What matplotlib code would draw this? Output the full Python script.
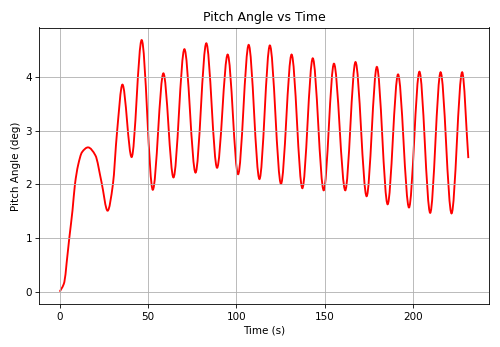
import numpy as np
import matplotlib
matplotlib.use("Agg")
import matplotlib.pyplot as plt
from matplotlib.path import Path
from matplotlib.patches import PathPatch

# values (s, deg)
time = [0, 2.6, 3.9, 5.4, 7.2, 8.6, 10.4, 12.6, 16.0, 20.2, 23.6, 27.1, 30.1, 32.4,
        35.5, 40.7, 46.4, 52.7, 58.7, 64.4, 70.6, 76.9, 83.0, 89.1, 95.1, 101.0,
        107.0, 113.1, 119.0, 125.3, 131.3, 137.4, 143.3, 149.5, 155.3, 161.7,
        167.5, 173.8, 179.6, 185.7, 191.6, 197.8, 203.7, 209.8, 215.7, 221.9,
        227.9, 231.4]
pitch = [0, 0.18, 0.54, 1.0, 1.51, 2.0, 2.36, 2.6, 2.69, 2.54, 2.05, 1.51, 2.0, 2.96,
         3.86, 2.51, 4.69, 1.90, 4.07, 2.13, 4.52, 2.22, 4.63, 2.31, 4.42, 2.19,
         4.60, 2.10, 4.59, 2.01, 4.42, 1.93, 4.35, 1.89, 4.25, 1.89,
         4.28, 1.78, 4.19, 1.63, 4.05, 1.57, 4.10, 1.47, 4.09, 1.46,
         4.09, 2.49]


def smooth_path(x, y):
    # monotone cubic tangents, drawn as bezier segments
    x = np.asarray(x, float)
    y = np.asarray(y, float)
    h = np.diff(x)
    d = np.diff(y) / h
    m = np.zeros_like(y)
    for k in range(1, len(y) - 1):
        if d[k - 1] * d[k] > 0:
            w1 = 2 * h[k] + h[k - 1]
            w2 = h[k] + 2 * h[k - 1]
            m[k] = (w1 + w2) / (w1 / d[k - 1] + w2 / d[k])
    m[0] = d[0]
    m[-1] = d[-1]
    verts = [(x[0], y[0])]
    codes = [Path.MOVETO]
    for k in range(len(h)):
        verts += [(x[k] + h[k] / 3, y[k] + m[k] * h[k] / 3),
                  (x[k + 1] - h[k] / 3, y[k + 1] - m[k + 1] * h[k] / 3),
                  (x[k + 1], y[k + 1])]
        codes += [Path.CURVE4] * 3
    return Path(verts, codes)


fig, ax = plt.subplots(figsize=(500 / 75, 347 / 75), dpi=75)
ax.add_patch(PathPatch(smooth_path(time, pitch), facecolor='none',
                       edgecolor='red', linewidth=1.8))

xpad = 0.05 * (max(time) - min(time))
ypad = 0.05 * (max(pitch) - min(pitch))
ax.set_xlim(min(time) - xpad, max(time) + xpad)
ax.set_ylim(min(pitch) - ypad, max(pitch) + ypad)

ax.set_title('Pitch Angle vs Time')
ax.set_xlabel('Time (s)')
ax.set_ylabel('Pitch Angle (deg)')
ax.grid(True)
fig.tight_layout()
fig.savefig('out.png')
